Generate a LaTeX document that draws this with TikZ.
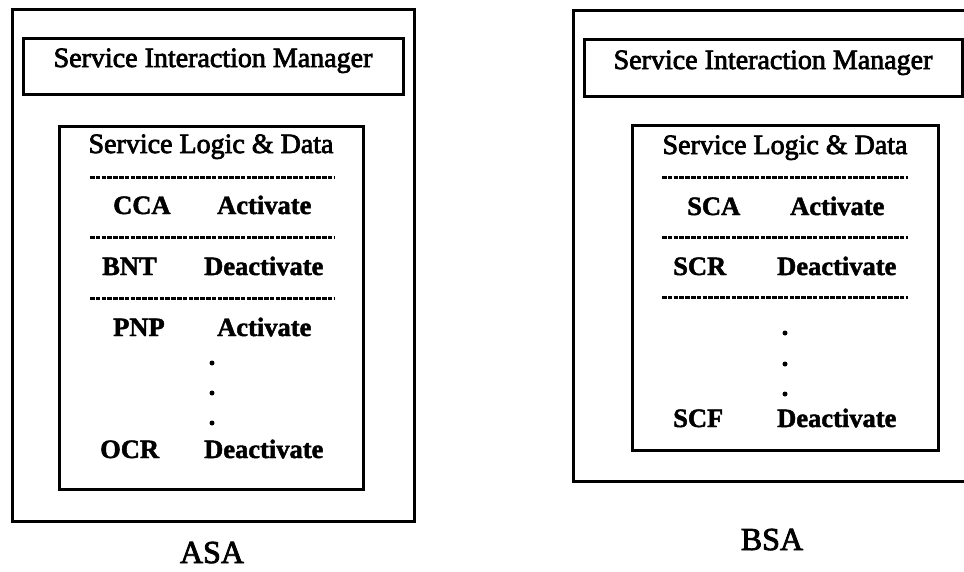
\documentclass[tikz,border=0pt]{standalone}
\usepackage{fontspec}
\setmainfont{Liberation Serif}
% heavier strokes, like the printed lettering
\newfontfamily\titlefont{Liberation Serif}[RawFeature={embolden=2.6}]
\newfontfamily\itemfont{Liberation Serif}[BoldFeatures={RawFeature={embolden=1.8}}]
\begin{document}
\begin{tikzpicture}[x=1pt,y=-1pt,
  frame/.style={draw=black,line width=3pt,inner sep=0pt},
  title/.style={anchor=base,inner sep=0pt,font=\titlefont\fontsize{28}{30}\selectfont},
  item/.style={anchor=base west,inner sep=0pt,font=\itemfont\fontsize{26.5}{28}\selectfont\bfseries},
  agent/.style={anchor=base,inner sep=0pt,font=\titlefont\fontsize{32}{34}\selectfont},
  sep/.style={line width=3pt,dash pattern=on 4.5pt off 1.3pt},
  dot/.style={circle,fill=black,inner sep=0pt,minimum size=5pt}]
\useasboundingbox (0,0) rectangle (964,571);

% ---- ASA ----
\node[frame,minimum width=402pt,minimum height=512pt] (asa) at (213,265) {};
\node[frame,minimum width=380pt,minimum height=56pt] (asaSim) at (213,66) {};
\node[title] (asaSimT) at (213,67) {Service Interaction Manager};
\node[frame,minimum width=304pt,minimum height=363pt] (asaSld) at (211,307.5) {};
\node[title] (asaSldT) at (211,153) {Service Logic \& Data};
\draw[sep] (90,177) -- (335,177);
\draw[sep] (90,237) -- (335,237);
\draw[sep] (90,298) -- (335,298);
\node[item] (cca) at (113,214) {CCA};
\node[item] (ccaS) at (217,214) {Activate};
\node[item] (bnt) at (102,275) {BNT};
\node[item] (bntS) at (204,275) {Deactivate};
\node[item] (pnp) at (113,336) {PNP};
\node[item] (pnpS) at (217,336) {Activate};
\node[dot] (asaD1) at (212,363) {};
\node[dot] (asaD2) at (212,393) {};
\node[dot] (asaD3) at (212,423) {};
\node[item] (ocr) at (100,458) {OCR};
\node[item] (ocrS) at (204,458) {Deactivate};
\node[agent] (asaName) at (212,563) {ASA};

% ---- BSA (frame runs off the right edge) ----
\draw[line width=3pt] (968,10) -- (573,10) -- (573,481) -- (968,481);
\node[frame,minimum width=378pt,minimum height=57pt] (bsaSim) at (773,67.5) {};
\node[title] (bsaSimT) at (773,69) {Service Interaction Manager};
\node[frame,minimum width=306pt,minimum height=325pt] (bsaSld) at (785,287.5) {};
\node[title] (bsaSldT) at (785,154) {Service Logic \& Data};
\draw[sep] (662,177) -- (908,177);
\draw[sep] (662,237) -- (908,237);
\draw[sep] (662,297) -- (908,297);
\node[item] (sca) at (687,215) {SCA};
\node[item] (scaS) at (790,215) {Activate};
\node[item] (scr) at (673,275) {SCR};
\node[item] (scrS) at (777,275) {Deactivate};
\node[dot] (bsaD1) at (785,333) {};
\node[dot] (bsaD2) at (785,364) {};
\node[dot] (bsaD3) at (785,394) {};
\node[item] (scf) at (673,427) {SCF};
\node[item] (scfS) at (777,427) {Deactivate};
\node[agent] (bsaName) at (772,550) {BSA};
\end{tikzpicture}
\end{document}
